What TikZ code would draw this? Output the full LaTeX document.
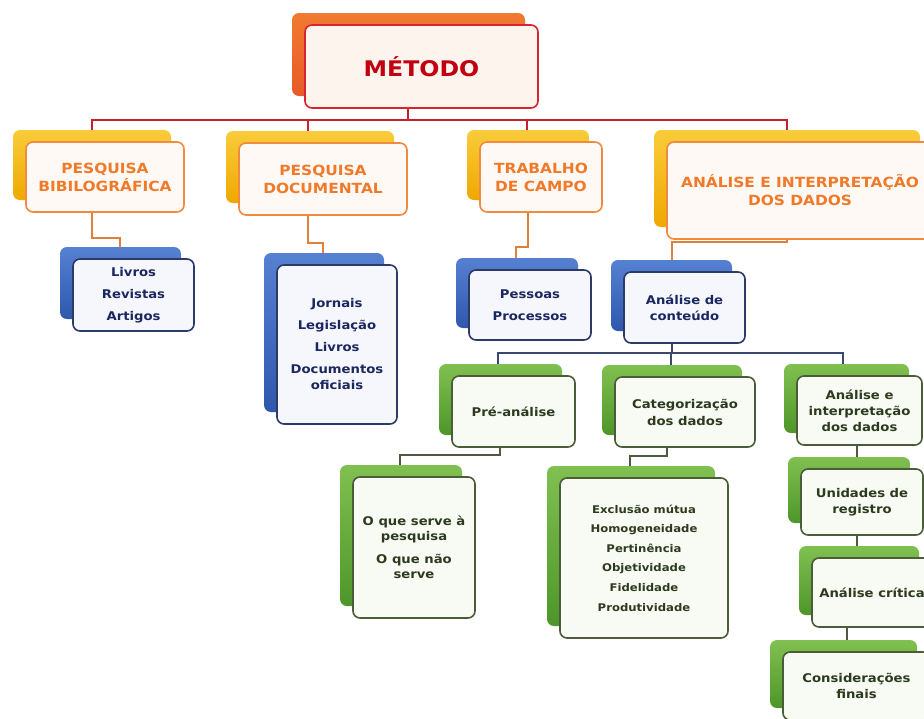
\documentclass[tikz,border=0pt]{standalone}
\usepackage{fontspec}
\setmainfont{DejaVu Sans}[FakeStretch=1.1]
\usetikzlibrary{shadows,backgrounds}
\definecolor{redln}{HTML}{C8202A}
\definecolor{orln}{HTML}{E0803A}
\definecolor{bluln}{HTML}{3A4870}
\definecolor{grnln}{HTML}{4D5A40}
\definecolor{metback}{HTML}{F07A30}
\definecolor{metback2}{HTML}{E85A28}
\definecolor{metbord}{HTML}{D9232E}
\definecolor{mettxt}{HTML}{C00010}
\definecolor{goldA}{HTML}{F9CC3A}
\definecolor{goldB}{HTML}{EFA800}
\definecolor{orbord}{HTML}{F08A40}
\definecolor{ortxt}{HTML}{F07A2A}
\definecolor{bluA}{HTML}{5680D2}
\definecolor{bluB}{HTML}{2E58AC}
\definecolor{blubord}{HTML}{2B3A67}
\definecolor{blutxt}{HTML}{1B2760}
\definecolor{grnA}{HTML}{80C050}
\definecolor{grnB}{HTML}{4E962A}
\definecolor{grnbord}{HTML}{4A5C38}
\definecolor{grntxt}{HTML}{2E3A1E}
\tikzset{
  x=1pt, y=-1pt,
  basebox/.style={rounded corners=7pt, line width=1.6pt, align=center, inner sep=0pt},
  metbox/.style={basebox, draw=metbord, fill=white!92!metback, text=mettxt,
    copy shadow={shadow xshift=-13pt, shadow yshift=12pt, draw=none, top color=metback, bottom color=metback2},
    font=\fontsize{21.5}{24}\selectfont\bfseries},
  orbox/.style={basebox, draw=orbord, fill=white!95!orbord, text=ortxt,
    copy shadow={shadow xshift=-13pt, shadow yshift=12pt, draw=none, top color=goldA, bottom color=goldB},
    font=\fontsize{14}{18}\selectfont\bfseries},
  blbox/.style={basebox, draw=blubord, fill=white!94!bluA, text=blutxt,
    copy shadow={shadow xshift=-13pt, shadow yshift=12pt, draw=none, top color=bluA, bottom color=bluB},
    font=\fontsize{12}{22}\selectfont\bfseries},
  gnbox/.style={basebox, draw=grnbord, fill=white!94!grnA, text=grntxt,
    copy shadow={shadow xshift=-13pt, shadow yshift=12pt, draw=none, top color=grnA, bottom color=grnB},
    font=\fontsize{12}{16}\selectfont\bfseries},
  redc/.style={draw=redln, line width=1.5pt},
  orc/.style={draw=orln, line width=1.5pt},
  blc/.style={draw=bluln, line width=1.5pt},
  gnc/.style={draw=grnln, line width=1.5pt},
}
\begin{document}
\begin{tikzpicture}
\useasboundingbox (0,0) rectangle (924,718);
% top
\node[metbox, minimum width=233, minimum height=83] (met) at (421.5,66.5) {MÉTODO};
% orange level
\node[orbox, minimum width=158, minimum height=70] (o1) at (105,177) {PESQUISA\\BIBILOGRÁFICA};
\node[orbox, minimum width=168, minimum height=72] (o2) at (323,179) {PESQUISA\\DOCUMENTAL};
\node[orbox, minimum width=122, minimum height=70] (o3) at (541,177) {TRABALHO\\DE CAMPO};
\node[orbox, minimum width=266, minimum height=97] (o4) at (800,190.5) {ANÁLISE E INTERPRETAÇÃO\\DOS DADOS};
% blue level
\node[blbox, minimum width=121, minimum height=72] (b1) at (133.5,295) {Livros\\Revistas\\Artigos};
\node[blbox, minimum width=120, minimum height=159, font=\fontsize{12}{16}\selectfont\bfseries] (b2) at (337,344.5) {Jornais\\[6pt]Legislação\\[6pt]Livros\\[6pt]Documentos\\oficiais};
\node[blbox, minimum width=122, minimum height=70] (b3) at (530,305) {Pessoas\\Processos};
\node[blbox, minimum width=121, minimum height=71, font=\fontsize{12}{16}\selectfont\bfseries] (b4) at (684.5,307.5) {Análise de\\conteúdo};
% green level
\node[gnbox, minimum width=123, minimum height=71] (g1) at (513.5,411.5) {Pré-análise};
\node[gnbox, minimum width=140, minimum height=70, font=\fontsize{12}{17}\selectfont\bfseries] (g2) at (685,412) {Categorização\\dos dados};
\node[gnbox, minimum width=125, minimum height=69] (g3) at (859.5,410.5) {Análise e\\interpretação\\dos dados};
\node[gnbox, minimum width=122, minimum height=66] (g4) at (862,502) {Unidades de\\registro};
\node[gnbox, minimum width=120, minimum height=69] (g5) at (872,592.5) {Análise crítica};
\node[gnbox, minimum width=147, minimum height=68] (g6) at (856.5,686) {Considerações\\finais};
\node[gnbox, minimum width=122, minimum height=141, font=\fontsize{12}{15}\selectfont\bfseries] (g7) at (414,547.5) {O que serve à\\pesquisa\\[8pt]O que não\\serve};
\node[gnbox, minimum width=168, minimum height=160, font=\fontsize{10.6}{19.6}\selectfont\bfseries] (g8) at (644,558) {Exclusão mútua\\Homogeneidade\\Pertinência\\Objetividade\\Fidelidade\\Produtividade};
% connectors
\begin{pgfonlayer}{background}
\coordinate (r0) at (408,120);
\draw[redc] (408,0 |- met.south) -- (r0);
\draw[redc] (92,0 |- o1.north) |- (787,120) -- (787,0 |- o4.north);
\draw[redc] (308,120) -- (308,0 |- o2.north);
\draw[redc] (527,120) -- (527,0 |- o3.north);
\draw[orc] (92,0 |- o1.south) |- (120,238) -- (120,0 |- b1.north);
\draw[orc] (308,0 |- o2.south) |- (323,243) -- (323,0 |- b2.north);
\draw[orc] (528,0 |- o3.south) |- (516,247) -- (516,0 |- b3.north);
\draw[orc] (787,0 |- o4.south) |- (672,242) -- (672,0 |- b4.north);
\draw[blc] (672,0 |- b4.south) -- (672,353);
\draw[blc] (498,0 |- g1.north) |- (843,353) -- (843,0 |- g3.north);
\draw[blc] (671,353) -- (671,0 |- g2.north);
\draw[gnc] (500,0 |- g1.south) |- (400,455) -- (400,0 |- g7.north);
\draw[gnc] (667,0 |- g2.south) |- (630,456) -- (630,0 |- g8.north);
\draw[gnc] (857,0 |- g3.south) -- (857,0 |- g4.north);
\draw[gnc] (857,0 |- g4.south) -- (857,0 |- g5.north);
\draw[gnc] (847,0 |- g5.south) -- (847,0 |- g6.north);
\end{pgfonlayer}
\end{tikzpicture}
\end{document}
